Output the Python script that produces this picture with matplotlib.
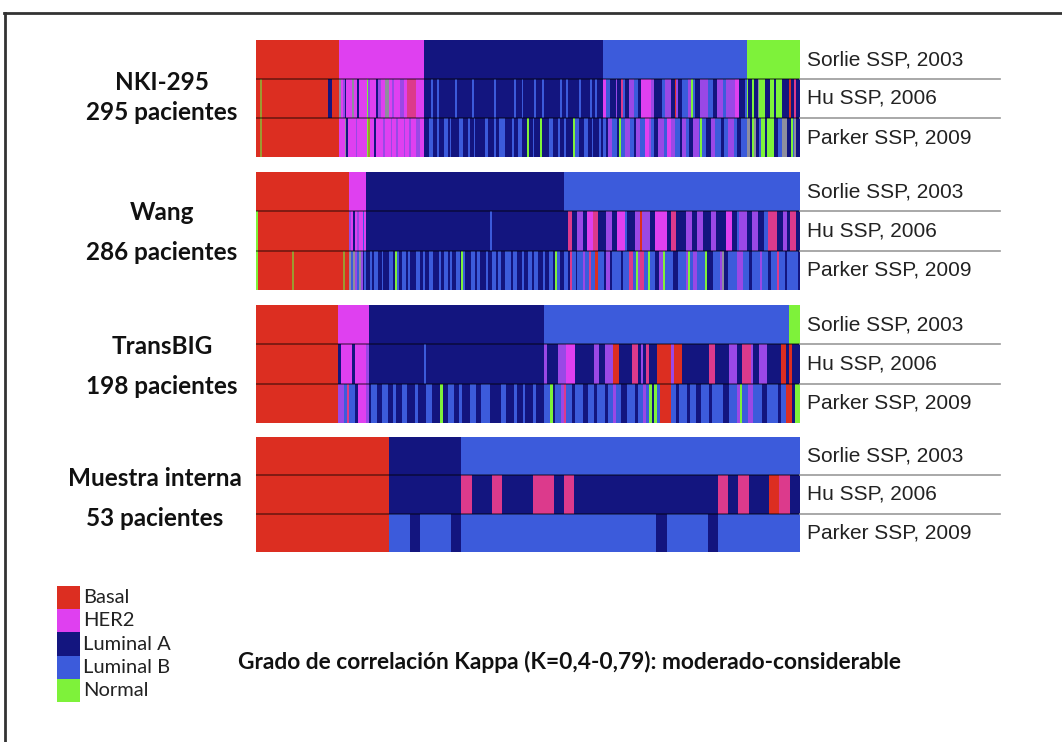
import matplotlib.pyplot as plt
from matplotlib.lines import Line2D
from matplotlib.patches import Rectangle

# subtype codes: B Basal, H HER2, A Luminal A, L Luminal B, N Normal
# P / V / G / O are the blended stripe tones seen in the picture
subtypes = ["Basal", "HER2", "Luminal A", "Luminal B", "Normal"]
subtype_codes = ["B", "H", "A", "L", "N"]
colors = {
    "B": "#dc2e21", "H": "#df40f0", "A": "#13157f", "L": "#3c5bdb",
    "N": "#7ef23a", "P": "#dc3a8c", "V": "#9a48e6", "G": "#8e8e9e",
    "O": "#9c9a30",
}
methods = ["Sorlie SSP, 2003", "Hu SSP, 2006", "Parker SSP, 2009"]

# run-length rows: code + number of patients
nki_sorlie = "B45 H46 A97 L78 N29"
nki_hu = ("B2 O1 B36 A2 B4 "
          "G1 H1 V1 A1 H3 G1 H2 A1 H4 N1 V1 H3 A1 V2 H2 G2 H2 V1 H3 V2 H2 P5 H4 "
          "A4 L1 A2 L1 A9 L1 A8 L1 A11 L1 A10 L1 A3 L1 A6 L1 A3 L1 A9 L1 A2 L1 A6 L1 A5 L1 A2 L1 A3 "
          "H2 L2 A3 V1 A2 P1 L1 A2 V3 L2 A2 H5 V2 A4 L2 V3 A2 B1 V1 A2 L3 V2 N1 L1 A3 V4 L3 A2 V3 L2 V5 H2 A3 L1 "
          "N1 A2 N1 A2 G1 N3 A3 N2 A1 N3 A4 B1 A2 P1 A2")
nki_parker = ("B2 O1 B42 "
              "H3 G1 A1 H4 V1 H5 N1 O1 H2 A1 H4 V1 H3 V1 H2 V1 H3 V1 H2 V1 H3 V2 H2 "
              "A3 L2 A2 L1 A3 L2 A1 L1 A4 L2 A3 L1 A2 L1 A5 L2 A3 L1 A2 L3 A4 L1 A2 L2 A3 N1 A2 L1 A3 N1 "
              "A4 L2 A3 L1 A2 L1 A4 N1 L2 A3 L2 A2 L1 A3 L1 A1 "
              "L2 A1 V2 L3 A1 N1 L2 V3 L2 A1 V2 L3 H2 V1 L2 A2 V3 L2 H2 V2 L3 A1 V2 L2 A2 V3 L1 N1 L2 A3 "
              "V2 L3 A2 L2 V3 L2 A2 L3 "
              "G2 A1 N1 G1 A2 L1 N2 A1 N4 A2 L2 G3 A2 N1 L1 G1 A2")

wang_sorlie = "B49 H9 A104 L124"
wang_hu = ("N1 B48 "
           "V1 H1 A1 H1 V1 H2 L1 H1 "
           "A65 L1 A38 "
           "A2 P2 A3 V3 A2 H3 P3 A4 V3 A3 H4 L1 A4 V3 B1 V4 A3 H6 A2 P3 A5 V3 A3 V3 A4 V3 A5 H3 "
           "A3 L1 V4 A3 V3 A3 L2 P5 A3 V2 A2 P3 A2")
wang_parker = ("N1 B18 O1 B26 O1 B2 "
               "G1 L1 G1 V1 L1 G1 V1 A1 L1 "
               "A2 L1 A1 L2 A2 L1 A3 L2 A1 N1 L1 A2 L2 A1 L1 A3 L2 A2 L1 A2 L2 A3 L1 A2 L2 A1 L1 A2 L2 A1 "
               "N1 L1 A3 L2 A1 L2 A3 L1 A2 L2 A1 L2 A2 L3 A1 L2 A3 L1 A2 L2 A1 L2 A3 L1 A2 L2 A1 N1 L2 A2 "
               "L2 A1 P1 L2 A1 L3 V1 L2 P1 L2 B2 L3 A1 V2 A1 L5 A1 L3 P2 L2 N1 V1 P2 L2 N1 L3 A2 V2 N1 L4 "
               "A3 L4 V1 N1 L2 V2 L4 N1 A3 L4 V1 G1 A2 L5 V3 L3 A2 L4 V1 L3 A2 L3 P1 L3 A1 L3 L3 A1")

tb_sorlie = "B30 H11 A64 L89 N4"
tb_hu = ("B30 "
         "A1 H4 A1 H4 V1 "
         "A20 L1 A43 "
         "V1 A4 V3 H3 A7 V2 A2 V3 B2 A5 P2 A1 V1 A1 P1 A3 B5 V1 B3 A10 P2 A5 V3 A2 P3 V1 A2 V3 A5 B2 A1 "
         "B1 A3")
tb_parker = ("B30 "
             "V2 L1 P1 L2 A1 H3 V1 "
             "A1 L2 A2 L2 A2 L1 A2 L2 A3 L1 A3 L2 A3 N1 A2 L2 A2 L1 A3 L2 A2 L3 A4 L2 A3 L1 A2 L1 A3 L1 A2 A1 "
             "L2 N1 A1 L2 V1 P1 L2 A1 L3 A2 L2 A1 L3 A1 L2 V1 L2 A2 L3 A1 L2 V1 L1 N1 A1 N1 L1 B4 L2 A1 "
             "L3 A1 L2 A2 L3 A1 L4 A2 L3 V1 N1 L2 V2 L3 A2 L4 A1 L2 B1 "
             "B1 A1 N2")

mi_sorlie = "B13 A7 L33"
mi_hu = "B13 A7 P1 A2 P1 A3 P2 A1 P1 A14 P1 A1 P1 A2 B1 P1 A1"
mi_parker = "B13 L2 A1 L3 A1 L19 A1 L4 A1 L8"

cohorts = ["NKI-295", "Wang", "TransBIG", "Muestra interna"]
patients = ["295 pacientes", "286 pacientes", "198 pacientes", "53 pacientes"]
rows = [
    [nki_sorlie, nki_hu, nki_parker],
    [wang_sorlie, wang_hu, wang_parker],
    [tb_sorlie, tb_hu, tb_parker],
    [mi_sorlie, mi_hu, mi_parker],
]

W, H = 1062, 742
fig = plt.figure(figsize=(W / 100, H / 100), dpi=100)


def fx(px):
    return px / W


def fy(py):
    return 1 - py / H


def parse(s):
    return [(t[0], int(t[1:])) for t in s.split()]


# panel boxes in pixels (top, bottom) and label line heights
boxes = [(40, 157), (172, 290), (305, 423), (437, 552)]
label_y = [(82, 113), (213, 253), (347, 386), (478, 518)]
bar_l, bar_r = 256, 800

for k in range(4):
    top, bot = boxes[k]
    ax = fig.add_axes([fx(bar_l), fy(bot), fx(bar_r) - fx(bar_l), (bot - top) / H])
    n = 0
    for r, row in enumerate(rows[k]):
        runs = parse(row)
        left = 0
        lefts, widths, cols = [], [], []
        for code, cnt in runs:
            lefts.append(left)
            widths.append(cnt)
            cols.append(colors[code])
            left += cnt
        n = max(n, left)
        ax.barh(r + 0.5, widths, left=lefts, height=1, color=cols,
                linewidth=0, antialiased=False)
    ax.set_xlim(0, n)
    ax.set_ylim(3, 0)
    ax.axhline(1, color="black", alpha=0.45, lw=1.3)
    ax.axhline(2, color="black", alpha=0.45, lw=1.3)
    ax.axis("off")

    rh = (bot - top) / 3
    for r in range(3):
        fig.text(fx(807), fy(top + rh * (r + 0.5)), methods[r], fontsize=15,
                 family="Liberation Sans", color="#222222", va="center", ha="left")
    for r in (1, 2):
        yb = top + rh * r
        fig.add_artist(Line2D([fx(800), fx(1000)], [fy(yb), fy(yb)],
                              color="#999999", lw=1.2))

    xc = 155 if k == 3 else 162
    fig.text(fx(xc), fy(label_y[k][0]), cohorts[k], fontsize=17.5, fontweight="bold",
             family="Lato", color="#111111", ha="center", va="center")
    fig.text(fx(xc), fy(label_y[k][1]), patients[k], fontsize=17.5, fontweight="bold",
             family="Lato", color="#111111", ha="center", va="center")

# legend
for i, (name, code) in enumerate(zip(subtypes, subtype_codes)):
    ytop = 586 + i * 23.2
    fig.add_artist(Rectangle((fx(57), fy(ytop + 23.2)), fx(80) - fx(57), 23.2 / H,
                             color=colors[code], lw=0, transform=fig.transFigure))
    fig.text(fx(83), fy(ytop + 11.6), name, fontsize=14.5, family="Lato",
             color="#222222", va="center", ha="left")

fig.text(fx(238), fy(662), "Grado de correlación Kappa (K=0,4-0,79): moderado-considerable",
         fontsize=16.4, fontweight="bold", family="Lato", color="#111111",
         va="center", ha="left")

# frame
fig.add_artist(Line2D([fx(4), fx(W)], [fy(13), fy(13)], color="#333333", lw=2))
fig.add_artist(Line2D([fx(5), fx(5)], [fy(13), fy(H)], color="#333333", lw=2))

plt.savefig("out.png", dpi=100)
